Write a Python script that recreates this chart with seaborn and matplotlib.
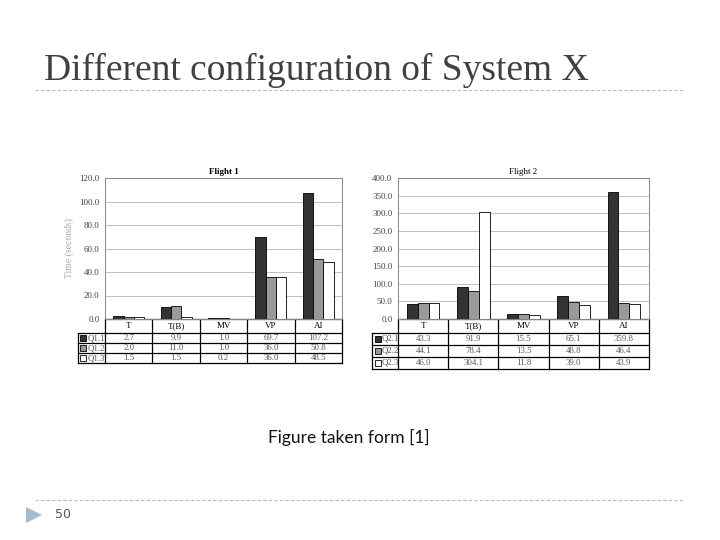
import numpy as np
import pandas as pd
import matplotlib.pyplot as plt
import seaborn as sns

# data (values also printed in their tables)
categories = ["T", "T(B)", "MV", "VP", "AI"]

flight1_series = ["Q1.1", "Q1.2", "Q1.3"]
flight1_q11 = [2.7, 9.9, 1.0, 69.7, 107.2]
flight1_q12 = [2.0, 11.0, 1.0, 36.0, 50.8]
flight1_q13 = [1.5, 1.5, 0.2, 36.0, 48.5]
flight1_ticks = [0, 20, 40, 60, 80, 100, 120]

flight2_series = ["Q2.1", "Q2.2", "Q2.3"]
flight2_q21 = [43.3, 91.9, 15.5, 65.1, 359.8]
flight2_q22 = [44.1, 78.4, 13.5, 48.8, 46.4]
flight2_q23 = [46.0, 304.1, 11.8, 39.0, 43.9]
flight2_ticks = [0, 50, 100, 150, 200, 250, 300, 350, 400]

bar_colors = ["#333333", "#9a9a9a", "#ffffff"]
SERIF = "Liberation Serif"


def draw_chart(ax, title, series, values, ticks, header_h, row_h, legend_w,
               ylabel=None, title_weight="normal"):
    df = pd.DataFrame({
        "category": categories * len(series),
        "series": np.repeat(series, len(categories)),
        "value": np.concatenate(values),
    })
    sns.barplot(data=df, x="category", y="value", hue="series", palette=bar_colors,
                width=0.65, gap=0, edgecolor="black", linewidth=0.6, ax=ax,
                legend=False, zorder=3, errorbar=None)
    ax.set_axisbelow(True)
    ax.set_xlim(-0.5, len(categories) - 0.5)
    ax.set_ylim(ticks[0], ticks[-1])
    ax.set_yticks(ticks)
    ax.set_yticklabels([f"{t:.1f}" for t in ticks], family=SERIF, fontsize=6.5, color="#444444")
    ax.set_xticks([])
    ax.set_xlabel("")
    ax.set_ylabel(ylabel if ylabel else "", family=SERIF, fontsize=7, color="#aaaaaa", labelpad=4)
    ax.tick_params(axis="y", length=0, pad=4)
    ax.yaxis.grid(True, color="#b5b5b5", lw=0.6)
    for s in ax.spines.values():
        s.set_color("#888888")
        s.set_linewidth(0.7)
    ax.set_title(title, family=SERIF, fontsize=6.5, fontweight=title_weight, pad=3)

    # data table under the plot area
    n = len(categories)
    bottom = -header_h - row_h * len(series)
    kw = dict(transform=ax.transAxes, clip_on=False, color="black", lw=0.9)
    for i in range(n + 1):
        ax.plot([i / n, i / n], [0, bottom], **kw)
    ax.plot([-legend_w, -legend_w], [-header_h, bottom], **kw)
    ax.plot([0, 1], [0, 0], **kw)
    for r in range(len(series) + 1):
        y = -header_h - r * row_h
        ax.plot([-legend_w, 1], [y, y], **kw)
    for i, c in enumerate(categories):
        ax.text((i + 0.5) / n, -header_h / 2, c, transform=ax.transAxes, ha="center",
                va="center", family=SERIF, fontsize=6.5)
    for r, (name, vals) in enumerate(zip(series, values)):
        y = -header_h - (r + 0.5) * row_h
        ax.plot([-legend_w + 0.022], [y], marker="s", markersize=4.2,
                markerfacecolor=bar_colors[r], markeredgecolor="black", markeredgewidth=0.6,
                transform=ax.transAxes, clip_on=False)
        ax.text(-legend_w + 0.04, y, name, transform=ax.transAxes, ha="left", va="center",
                family=SERIF, fontsize=6.3, color="#555555")
        for i, v in enumerate(vals):
            ax.text((i + 0.5) / n, y, f"{v:.1f}", transform=ax.transAxes, ha="center",
                    va="center", family=SERIF, fontsize=6.3, color="#555555")


fig = plt.figure(figsize=(7.2, 5.4), dpi=100)

# slide decorations in pixel coordinates
bg = fig.add_axes([0, 0, 1, 1])
bg.set_xlim(0, 720)
bg.set_ylim(540, 0)
bg.axis("off")
bg.text(44, 80, "Different configuration of System X", family=SERIF, fontsize=27,
        color="#404040", va="baseline")
bg.plot([35, 685], [90, 90], ls=(0, (3, 2)), color="#b8b8b8", lw=0.8)
bg.plot([35, 685], [500, 500], ls=(0, (3, 2)), color="#b8b8b8", lw=0.8)
bg.text(349, 437, "Figure taken form [1]", family="Lato", fontsize=12.5, color="#111111",
        ha="center", va="center")
bg.plot([34], [515], marker=">", markersize=11, color="#a9bacb", markeredgewidth=0)
bg.text(55, 515, "50", family=["Liberation Sans Narrow", "DejaVu Sans"], fontsize=9,
        color="#555555", va="center")

ax1 = fig.add_axes([105 / 720, 1 - 319 / 540, 237 / 720, 141 / 540])
draw_chart(ax1, "Flight 1", flight1_series, [flight1_q11, flight1_q12, flight1_q13],
           flight1_ticks, 14 / 141, 10 / 141, 27 / 237, ylabel="Time (seconds)",
           title_weight="bold")

ax2 = fig.add_axes([398 / 720, 1 - 319 / 540, 251 / 720, 141 / 540])
draw_chart(ax2, "Flight 2", flight2_series, [flight2_q21, flight2_q22, flight2_q23],
           flight2_ticks, 14 / 141, 12 / 141, 26 / 251)

fig.savefig("out.png", dpi=100)
